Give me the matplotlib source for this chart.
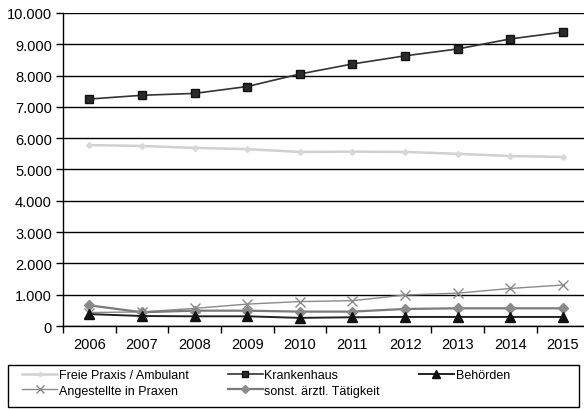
import numpy as np
import matplotlib.pyplot as plt
from matplotlib.patches import Rectangle
from matplotlib.ticker import FuncFormatter

plt.rcParams['font.family'] = ['Liberation Sans', 'DejaVu Sans']

years = ['2006', '2007', '2008', '2009', '2010', '2011', '2012', '2013', '2014', '2015']
freie_praxis = [5780, 5750, 5690, 5650, 5560, 5570, 5560, 5500, 5430, 5400]
krankenhaus = [7250, 7370, 7430, 7650, 8050, 8370, 8630, 8850, 9170, 9390]
behoerden = [380, 320, 310, 310, 260, 280, 290, 290, 290, 290]
angestellte = [430, 450, 565, 700, 780, 810, 990, 1050, 1200, 1310]
sonstige = [660, 440, 490, 490, 460, 460, 545, 565, 565, 565]

fig = plt.figure(figsize=(5.84, 4.10), dpi=100)
ax = fig.add_axes([0.108, 0.2024, 0.901, 0.7636])

x = np.arange(len(years))
l1, = ax.plot(x, freie_praxis, color='#d0d0d0', lw=1.8, marker='D', ms=3,
              mfc='#d8d8d8', mec='#d8d8d8', label='Freie Praxis / Ambulant')
l4, = ax.plot(x, angestellte, color='#8a8a8a', lw=1.0, marker='x', ms=7, mew=1.0,
              mec='#8a8a8a', label='Angestellte in Praxen')
l5, = ax.plot(x, sonstige, color='#7a7a7a', lw=1.6, marker='D', ms=5,
              mfc='#8a8a8a', mec='#8a8a8a', label='sonst. ärztl. Tätigkeit')
l3, = ax.plot(x, behoerden, color='#222222', lw=1.4, marker='^', ms=7,
              mfc='#111111', mec='#111111', label='Behörden')
l2, = ax.plot(x, krankenhaus, color='#333333', lw=1.2, marker='s', ms=6,
              mfc='#2a2a2a', mec='#111111', label='Krankenhaus')

ax.set_xlim(-0.5, len(years) - 0.5)
ax.set_ylim(0, 10000)
ax.set_yticks(np.arange(0, 10001, 1000))
ax.yaxis.set_major_formatter(FuncFormatter(
    lambda v, p: '0' if v == 0 else '{:,.0f}'.format(v).replace(',', '.')))
ax.set_xticks(x)
ax.set_xticklabels(years)
ax.set_xticks(np.arange(-0.5, len(years)), minor=True)
ax.tick_params(axis='x', which='major', length=0, pad=8, labelsize=10.5)
ax.tick_params(axis='x', which='minor', length=5, width=1, direction='out', color='black')
ax.tick_params(axis='y', length=5, width=1, direction='out', labelsize=10.5, pad=3)

ax.grid(axis='y', color='black', lw=1.0)
ax.set_axisbelow(True)
for s in ['top', 'right']:
    ax.spines[s].set_visible(False)
ax.spines['left'].set_linewidth(1.0)
ax.spines['bottom'].set_linewidth(1.0)

# legend: rows Freie/Krankenhaus/Behörden, then Angestellte/sonst.
leg = fig.legend(handles=[l1, l4, l2, l5, l3], ncol=3, loc='upper left',
                 bbox_to_anchor=(0.0377, 0.0976), fontsize=9, frameon=False,
                 handlelength=2.8, handletextpad=0.15, borderpad=0,
                 borderaxespad=0, labelspacing=0.3, columnspacing=3.1,
                 markerscale=0.75)
fig.add_artist(Rectangle((0.0137, 0.005), 0.978, 0.1024, transform=fig.transFigure,
                         fill=False, edgecolor='black', lw=1.0))

fig.savefig('out.png', dpi=100)
